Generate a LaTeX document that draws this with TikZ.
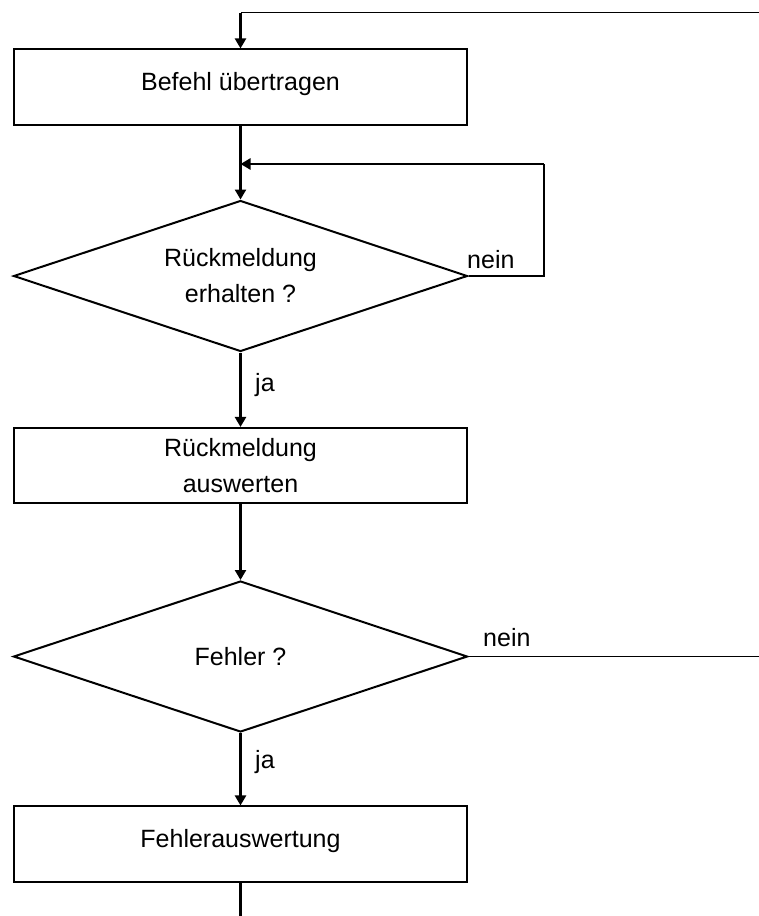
\documentclass[tikz,border=0pt]{standalone}
\usepackage{fontspec}
\setmainfont{Liberation Sans}
\usetikzlibrary{shapes.geometric,arrows.meta}
\begin{document}
\begin{tikzpicture}[x=1pt,y=-1pt,
  txt/.style={font=\fontsize{25}{36}\selectfont},
  boxnode/.style={draw,line width=1.6pt,rectangle,minimum width=453pt,minimum height=75.5pt,inner sep=0pt,align=center,txt},
  decision/.style={draw,line width=2pt,diamond,aspect=3,minimum width=454pt,minimum height=151pt,inner sep=0pt,align=center,txt},
  flow/.style={line width=2.4pt,-{Triangle[length=10pt,width=11pt]}},
  plain/.style={line width=1.5pt},
  lbl/.style={txt,inner sep=0pt,anchor=base west}]
\useasboundingbox (0,0) rectangle (759,916);
\node[boxnode] (b1) at (240.5,87) {\raisebox{0pt}[18pt][11pt]{Befehl übertragen}};
\node[decision] (d1) at (240.5,276) {Rückmeldung\\erhalten ?};
\node[boxnode] (b2) at (240.5,465.5) {Rückmeldung\\auswerten};
\node[decision] (d2) at (240.5,656.5) {Fehler ?};
\node[boxnode] (b3) at (240.5,844) {\raisebox{0pt}[18pt][11pt]{Fehlerauswertung}};
\coordinate (topR) at (759,12.5);
\coordinate (topL) at (240.5,12.5);
\coordinate (fbA) at (544,276);
\coordinate (fbB) at (544,164);
\coordinate (fbC) at (240.5,164);
\coordinate (outR) at (759,656.5);
\coordinate (botEnd) at (240.5,916);
\draw[plain] (topR) -- (topL);
\draw[flow] (topL) -- (b1.north);
\draw[flow] (b1.south) -- (d1.north);
\draw[plain] (d1.east) -- (fbA) -- (fbB);
\draw[flow] (fbB) -- (fbC);
\draw[flow] (d1.south) -- (b2.north);
\draw[flow] (b2.south) -- (d2.north);
\draw[plain] (d2.east) -- (outR);
\draw[flow] (d2.south) -- (b3.north);
\draw[line width=2.4pt] (b3.south) -- (botEnd);
\node[lbl] (n1) at (467,268) {nein};
\node[lbl] (n2) at (483,646) {nein};
\node[lbl] (j1) at (255,391) {ja};
\node[lbl] (j2) at (255,768) {ja};
\end{tikzpicture}
\end{document}
